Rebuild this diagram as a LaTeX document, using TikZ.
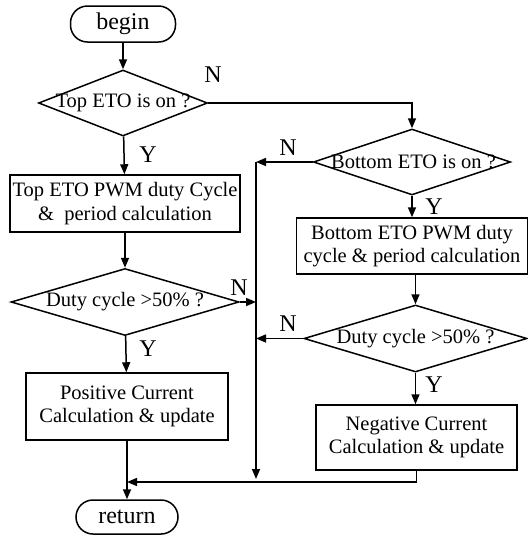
\documentclass[tikz,border=0pt]{standalone}
\usepackage{fontspec}
\setmainfont{Liberation Serif}
\usetikzlibrary{shapes.geometric,arrows.meta}
\begin{document}
\begin{tikzpicture}[x=1pt,y=-1pt,line width=1.5pt,
  >={Triangle[length=10pt,width=8pt]},
  box/.style={draw,rectangle,inner sep=0pt,align=center,font=\fontsize{20.5}{23.5}\selectfont},
  term/.style={draw,rectangle,rounded corners=17pt,inner sep=0pt,font=\fontsize{24}{28}\selectfont},
  dia/.style={draw,diamond,inner sep=0pt},
  dtext/.style={inner sep=0pt,font=\fontsize{20.5}{23.5}\selectfont},
  yn/.style={inner sep=0pt,font=\fontsize{24}{28}\selectfont}]
\useasboundingbox (0,0) rectangle (528,539);

\node[term,minimum width=105pt,minimum height=36pt] (begin) at (123,24) {begin};
\node[dia,minimum width=169pt,minimum height=66pt] (d1) at (123,103) {};
\node[dtext] (d1t) at (d1) {Top ETO is on ?};
\node[box,minimum width=230pt,minimum height=57pt] (b1) at (125,203.5) {Top ETO PWM duty Cycle\\\&~ period calculation};
\node[dia,minimum width=228pt,minimum height=67pt] (d3) at (125,302) {};
\node[dtext] (d3t) at (d3) {Duty cycle >50\% ?};
\node[box,minimum width=202pt,minimum height=67pt] (b3) at (127,406.5) {Positive Current\\Calculation \& update};
\node[term,minimum width=102pt,minimum height=34pt] (ret) at (127,517) {return};

\node[dia,minimum width=197pt,minimum height=66pt] (d2) at (412,162) {};
\node[dtext] (d2t) at (413.5,162) {Bottom ETO is on ?};
\node[box,minimum width=231pt,minimum height=56pt] (b2) at (412,246) {Bottom ETO PWM duty\\cycle \& period calculation};
\node[dia,minimum width=223pt,minimum height=67pt] (d4) at (415.5,338.5) {};
\node[dtext] (d4t) at (d4) {Duty cycle >50\% ?};
\node[box,minimum width=201pt,minimum height=65pt] (b4) at (416.5,437.5) {Negative Current\\Calculation \& update};

\coordinate (c1) at (256,162);
\coordinate (c4) at (256,479);
\coordinate (j) at (127,482);

\draw[->] (begin) -- (d1);
\draw[->] (d1) -- (b1);
\draw[->] (b1) -- (d3);
\draw[->] (d3) -- (b3);
\draw[->] (b3) -- (ret);
\draw[->] (d1.east) -| (d2.north);
\draw[->] (d2) -- (b2);
\draw[->] (b2.south -| d4.north) -- (d4.north);
\draw[->] (d4.south) -- (d4.south |- b4.north);
\draw[->] (d2.west) -- (c1);
\draw[->] (c1) -- (c4);
\draw[->] (d3.east) -- (d3.east -| c1);
\draw[->] (d4.west) -- (d4.west -| c1);
\draw[->] (b4.south) |- (j);

\node[yn] (n1) at (213,75) {N};
\node[yn] (y1) at (148,155) {Y};
\node[yn] (n2) at (288,148) {N};
\node[yn] (y2) at (434,207) {Y};
\node[yn] (n3) at (239,288) {N};
\node[yn] (y3) at (148,349) {Y};
\node[yn] (n4) at (288,324) {N};
\node[yn] (y4) at (434,385) {Y};
\end{tikzpicture}
\end{document}
